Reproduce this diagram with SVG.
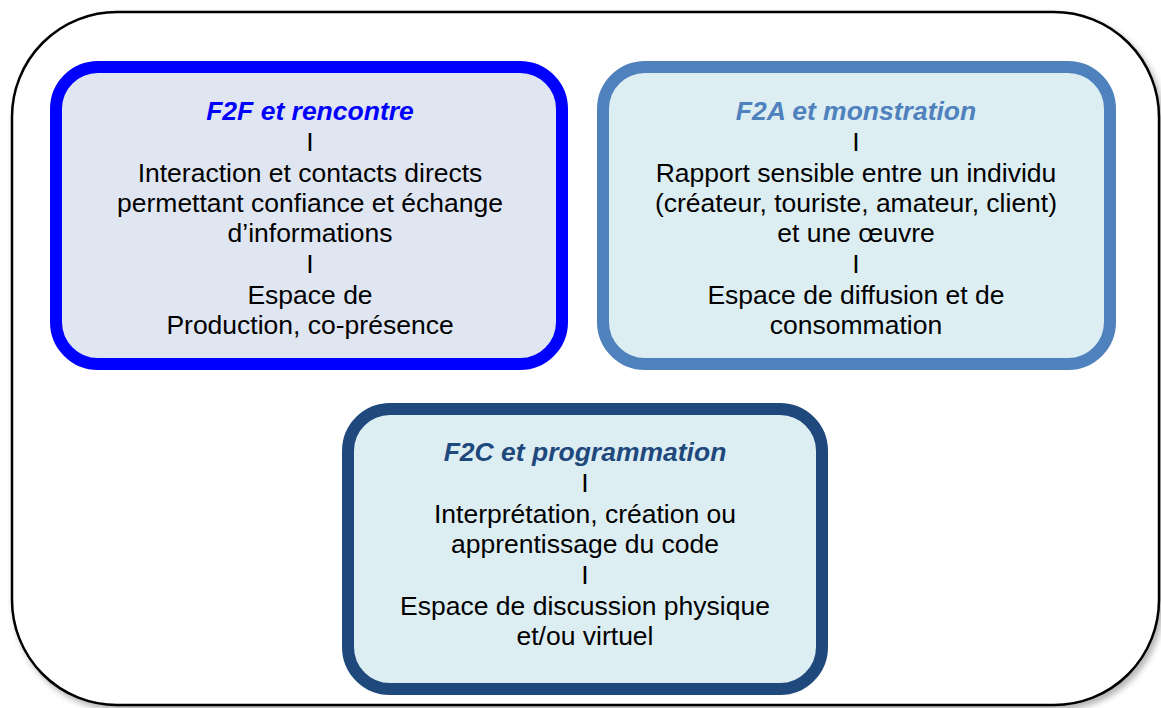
<svg xmlns="http://www.w3.org/2000/svg" width="1161" height="708" viewBox="0 0 1161 708">
<defs>
<filter id="sh" x="-5%" y="-5%" width="110%" height="110%">
<feDropShadow dx="3" dy="4" stdDeviation="3" flood-color="#000" flood-opacity="0.3"/>
</filter>
</defs>
<style>
.t{font-family:"Liberation Sans",Arial,sans-serif;font-size:26.5px;fill:#000;text-anchor:middle}
.h{font-weight:bold;font-style:italic}
</style>
<rect width="1161" height="708" fill="#fff"/>
<g id="frame">
<rect x="12" y="12" width="1147" height="693" rx="105" ry="105" fill="#fff" stroke="#000" stroke-width="2.5" filter="url(#sh)"/>
</g>
<g id="f2f">
<rect x="56" y="67" width="506" height="297" rx="42" ry="42" fill="#DFE6F1" stroke="#0000FF" stroke-width="12"/>
<text class="t h" x="310" y="120" style="fill:#0000FF">F2F et rencontre</text>
<text class="t" x="310" y="151">I</text>
<text class="t" x="310" y="182">Interaction et contacts directs</text>
<text class="t" x="310" y="212">permettant confiance et échange</text>
<text class="t" x="310" y="242">d’informations</text>
<text class="t" x="310" y="273">I</text>
<text class="t" x="310" y="304">Espace de</text>
<text class="t" x="310" y="334">Production, co-présence</text>
</g>
<g id="f2a">
<rect x="603" y="67" width="507" height="297" rx="42" ry="42" fill="#DDEEF3" stroke="#4F81BD" stroke-width="12"/>
<text class="t h" x="856" y="120" style="fill:#4F81BD">F2A et monstration</text>
<text class="t" x="856" y="151">I</text>
<text class="t" x="856" y="182">Rapport sensible entre un individu</text>
<text class="t" x="856" y="212">(créateur, touriste, amateur, client)</text>
<text class="t" x="856" y="242">et une œuvre</text>
<text class="t" x="856" y="273">I</text>
<text class="t" x="856" y="304">Espace de diffusion et de</text>
<text class="t" x="856" y="334">consommation</text>
</g>
<g id="f2c">
<rect x="348" y="409" width="474" height="280" rx="42" ry="42" fill="#DDEEF3" stroke="#1F497D" stroke-width="12"/>
<text class="t h" x="585" y="461" style="fill:#1F497D">F2C et programmation</text>
<text class="t" x="585" y="492">I</text>
<text class="t" x="585" y="523">Interprétation, création ou</text>
<text class="t" x="585" y="553">apprentissage du code</text>
<text class="t" x="585" y="584">I</text>
<text class="t" x="585" y="615">Espace de discussion physique</text>
<text class="t" x="585" y="645">et/ou virtuel</text>
</g>
<g id="connectors"></g>
</svg>
